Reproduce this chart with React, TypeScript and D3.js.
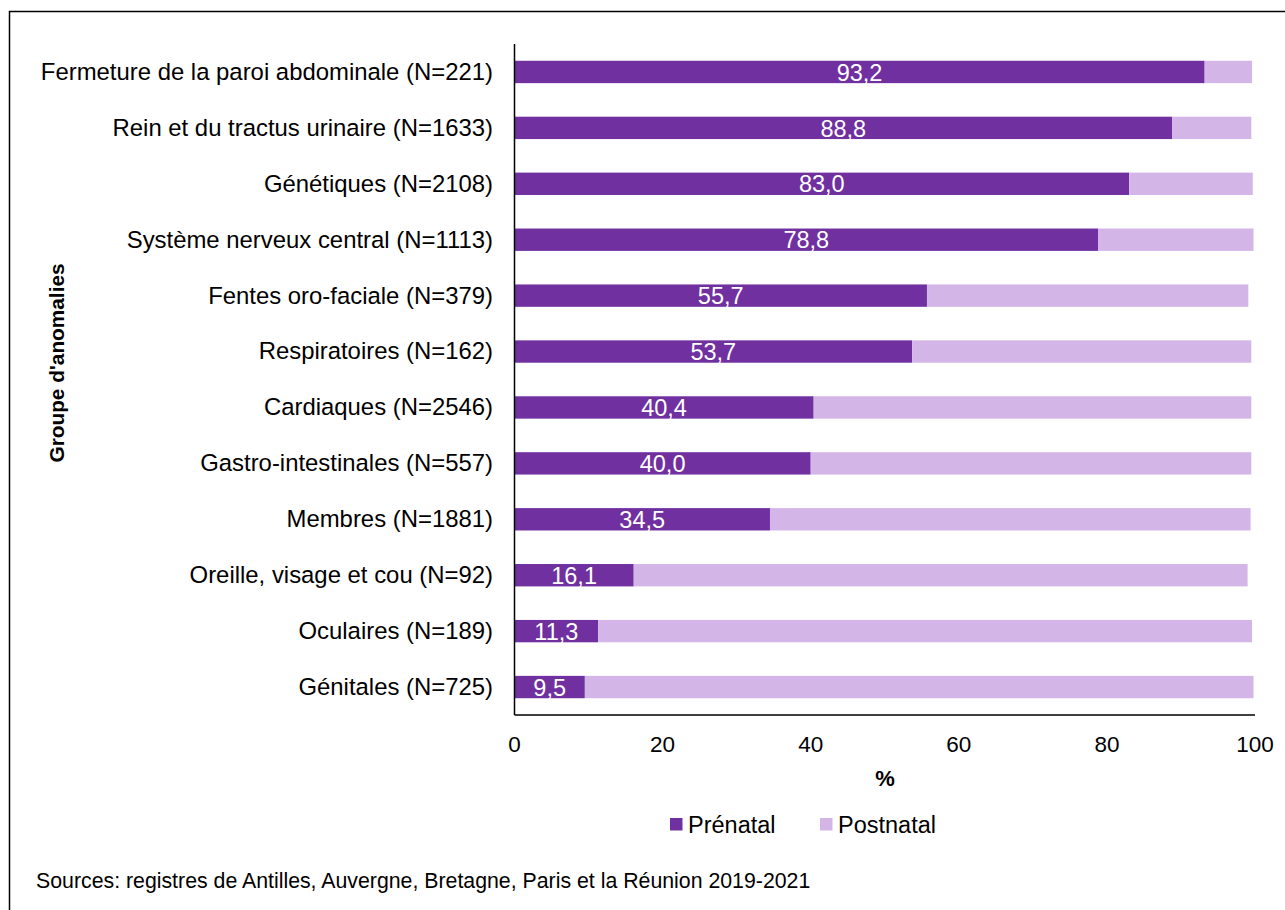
import React from "react";
import * as d3 from "d3";

const categories = [
  "Fermeture de la paroi abdominale (N=221)",
  "Rein et du tractus urinaire (N=1633)",
  "Génétiques (N=2108)",
  "Système nerveux central (N=1113)",
  "Fentes oro-faciale (N=379)",
  "Respiratoires (N=162)",
  "Cardiaques (N=2546)",
  "Gastro-intestinales (N=557)",
  "Membres (N=1881)",
  "Oreille, visage et cou (N=92)",
  "Oculaires (N=189)",
  "Génitales (N=725)",
];

const prenatal = [93.2, 88.8, 83.0, 78.8, 55.7, 53.7, 40.4, 40.0, 34.5, 16.1, 11.3, 9.5];
const postnatal = [6.4, 10.7, 16.7, 21.0, 43.4, 45.8, 59.1, 59.5, 64.9, 82.9, 88.3, 90.3];

const xTicks = [0, 20, 40, 60, 80, 100];

const seriesNames = ["Prénatal", "Postnatal"];
const seriesColors = ["#7030A0", "#D4B5E8"];

const FONT = "Arial, 'Liberation Sans', sans-serif";

export default function App() {
  const width = 1285;
  const height = 910;
  const x = d3.scaleLinear().domain([0, 100]).range([514.5, 1255]);
  const y = d3
    .scaleBand<string>()
    .domain(categories)
    .range([44, 715])
    .paddingInner(0.6)
    .paddingOuter(0.3);
  const fmt = (v: number) => v.toFixed(1).replace(".", ",");

  return (
    <svg
      width={width}
      height={height}
      style={{ position: "absolute", left: 0, top: 0, background: "#fff" }}
      fontFamily={FONT}
    >
      <rect x={9.5} y={11.5} width={1290} height={910} fill="#fff" stroke="#000" strokeWidth={1.5} />

      {categories.map((c, i) => {
        const y0 = y(c)!;
        const bh = y.bandwidth();
        return (
          <g key={c}>
            <rect x={x(0)} y={y0} width={x(prenatal[i]) - x(0)} height={bh} fill={seriesColors[0]} />
            <rect
              x={x(prenatal[i])}
              y={y0}
              width={x(prenatal[i] + postnatal[i]) - x(prenatal[i])}
              height={bh}
              fill={seriesColors[1]}
            />
            <text
              x={(x(0) + x(prenatal[i])) / 2}
              y={y0 + bh / 2}
              dy="0.37em"
              textAnchor="middle"
              fill="#fff"
              fontSize={23.5}
            >
              {fmt(prenatal[i])}
            </text>
            <text x={493} y={y0 + bh / 2} dy="0.33em" textAnchor="end" fontSize={23.9} fill="#000">
              {c}
            </text>
          </g>
        );
      })}

      {/* axes */}
      <line x1={x(0)} x2={x(0)} y1={44} y2={715} stroke="#000" strokeWidth={1.5} />
      <line x1={x(0)} x2={x(100)} y1={715} y2={715} stroke="#000" strokeWidth={1.5} />
      {xTicks.map((t) => (
        <text key={t} x={x(t)} y={752} textAnchor="middle" fontSize={22.5} fill="#000">
          {t}
        </text>
      ))}
      <text x={885} y={786} textAnchor="middle" fontSize={22} fontWeight="bold" fill="#000">
        %
      </text>
      <text
        transform={`translate(64,363) rotate(-90)`}
        textAnchor="middle"
        fontSize={20.8}
        fontWeight="bold"
        fill="#000"
      >
        Groupe d'anomalies
      </text>

      {/* legend */}
      {seriesNames.map((n, i) => {
        const lx = i === 0 ? 670 : 820;
        return (
          <g key={n}>
            <rect x={lx} y={818} width={12.5} height={12.5} fill={seriesColors[i]} />
            <text x={lx + 18} y={833} fontSize={23.5} fill="#000">
              {n}
            </text>
          </g>
        );
      })}

      <text x={36} y={888} fontSize={21.3} fill="#000">
        Sources: registres de Antilles, Auvergne, Bretagne, Paris et la Réunion 2019-2021
      </text>
    </svg>
  );
}
